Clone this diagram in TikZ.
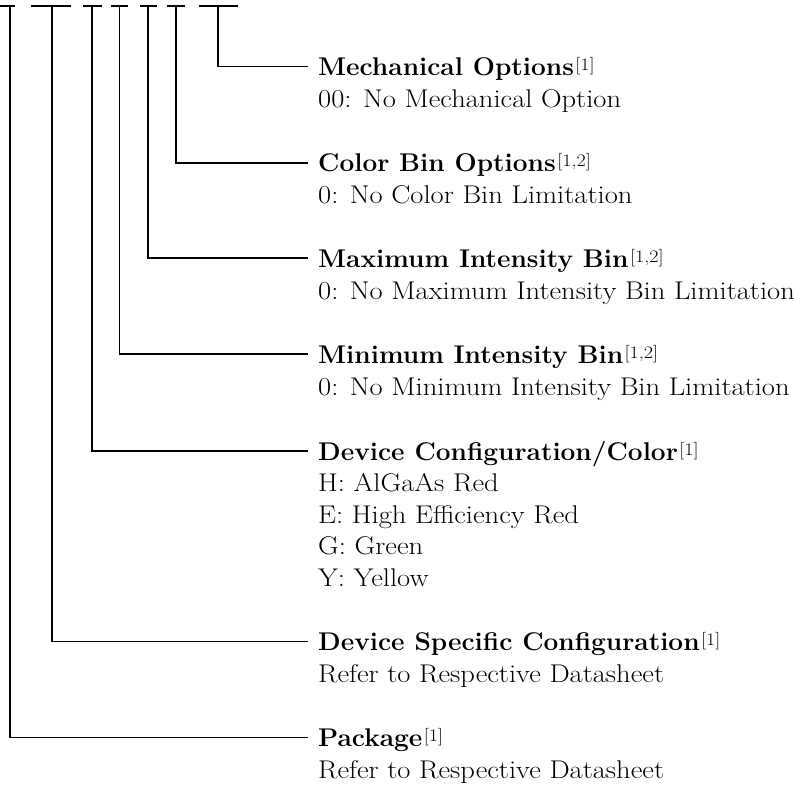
\documentclass[tikz,border=0pt]{standalone}
\usepackage{fontspec}
\setmainfont{Latin Modern Roman}[BoldFeatures={FakeStretch=1.025}]
\newfontfamily\widefont{Latin Modern Roman}[FakeStretch=1.115]
\newfontfamily\supfont{Latin Modern Roman}[FakeStretch=1.15]
\newcommand\supnote[1]{\kern1.5pt\raisebox{5pt}{\fontsize{17.5}{17.5}\selectfont\supfont\mdseries[#1]}}
\begin{document}
\begin{tikzpicture}[x=1pt,y=-1pt,
  title/.style={anchor=base west, inner xsep=10pt, inner ysep=0pt, text height=18pt, text depth=0pt, font=\fontsize{25.6}{31}\selectfont\bfseries},
  sub/.style={anchor=base west, inner sep=0pt, font=\fontsize{25.6}{31}\selectfont\widefont},
  bar/.style={line width=2.6pt},
  conn/.style={line width=1.2pt}]
\useasboundingbox (0,0) rectangle (794,786);
% part-number blanks
\draw[bar] (0,6) -- (15,6);
\draw[bar] (31,6) -- (71,6);
\draw[bar] (83,6) -- (102,6);
\draw[bar] (111,6) -- (128,6);
\draw[bar] (140,6) -- (157,6);
\draw[bar] (167,6) -- (185,6);
\draw[bar] (199,6) -- (238,6);
\coordinate (b1) at (10,6);
\coordinate (b2) at (52,6);
\coordinate (b3) at (92,6);
\coordinate (b4) at (119.5,6);
\coordinate (b5) at (148,6);
\coordinate (b6) at (176,6);
\coordinate (b7) at (218,6);
% labels
\node[title] (mech) at (308,75.5) {Mechanical Options\supnote{1}};
\node[sub] (mechs) at (318,107.5) {00: No Mechanical Option};
\node[title] (color) at (308,172) {Color Bin Options\supnote{1,2}};
\node[sub] (colors) at (318,204) {0: No Color Bin Limitation};
\node[title] (maxi) at (308,267) {Maximum Intensity Bin\supnote{1,2}};
\node[sub] (maxis) at (318,299) {0: No Maximum Intensity Bin Limitation};
\node[title] (mini) at (308,363) {Minimum Intensity Bin\supnote{1,2}};
\node[sub] (minis) at (318,395) {0: No Minimum Intensity Bin Limitation};
\node[title] (conf) at (308,460) {Device Configuration/Color\supnote{1}};
\node[sub] (confh) at (318,491.5) {H: AlGaAs Red};
\node[sub] (confe) at (318,523) {E: High Efficiency Red};
\node[sub] (confg) at (318,554.5) {G: Green};
\node[sub] (confy) at (318,586) {Y: Yellow};
\node[title] (spec) at (308,650.5) {Device Specific Configuration\supnote{1}};
\node[sub] (specs) at (318,682) {Refer to Respective Datasheet};
\node[title] (pkg) at (308,746.5) {Package\supnote{1}};
\node[sub] (pkgs) at (318,778) {Refer to Respective Datasheet};
% connectors
\draw[conn] (b7) |- (mech.west);
\draw[conn] (b6) |- (color.west);
\draw[conn] (b5) |- (maxi.west);
\draw[conn] (b4) |- (mini.west);
\draw[conn] (b3) |- (conf.west);
\draw[conn] (b2) |- (spec.west);
\draw[conn] (b1) |- (pkg.west);
\end{tikzpicture}
\end{document}
